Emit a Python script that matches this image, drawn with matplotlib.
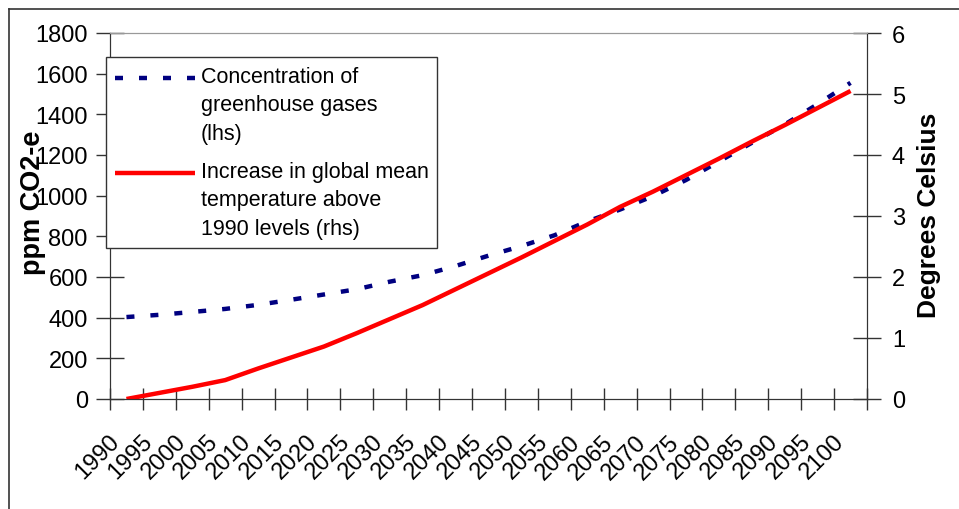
import matplotlib
matplotlib.use("Agg")
import matplotlib.pyplot as plt
from matplotlib.lines import Line2D
from matplotlib.legend_handler import HandlerLine2D
import matplotlib.transforms as mtransforms
import numpy as np

plt.rcParams['font.family'] = ['Liberation Sans', 'DejaVu Sans']

years = [str(y) for y in range(1990, 2101, 5)]
ghg_ppm = [403, 414, 428, 443, 463, 488, 514, 540, 577, 609, 654, 705,
           752, 805, 873, 932, 998, 1077, 1168, 1260, 1350, 1450, 1555]
temp_c = [0.0, 0.1, 0.2, 0.31, 0.50, 0.68, 0.86, 1.08, 1.31, 1.54, 1.80, 2.06,
          2.32, 2.59, 2.86, 3.15, 3.40, 3.67, 3.94, 4.22, 4.49, 4.77, 5.05]
label_ghg = "Concentration of\ngreenhouse gases\n(lhs)"
label_temp = "Increase in global mean\ntemperature above\n1990 levels (rhs)"


class TopHandler(HandlerLine2D):
    def __init__(self, dy, **kw):
        super().__init__(**kw)
        self.dy = dy

    def create_artists(self, legend, orig_handle, xdescent, ydescent, width,
                       height, fontsize, trans):
        arts = super().create_artists(legend, orig_handle, xdescent, ydescent,
                                      width, height, fontsize, trans)
        for a in arts:
            a.set_ydata(np.asarray(a.get_ydata(), dtype=float) + self.dy)
        return arts


W, H = 959, 510
fig = plt.figure(figsize=(W / 100, H / 100), dpi=100)
L, R, T, B = 110, 867, 34, 400
ax = fig.add_axes([L / W, 1 - B / H, (R - L) / W, (B - T) / H])
ax2 = ax.twinx()

x = np.arange(len(years))
fs = 17
lfs = 15.5

l1, = ax.plot(x, ghg_ppm, color='#000080', lw=3.2, linestyle=(0, (1.8, 3.6)),
              solid_capstyle='butt', dash_capstyle='butt', label=label_ghg)
l2, = ax2.plot(x, temp_c, color='#FF0000', lw=3.2, solid_capstyle='butt',
               label=label_temp)

ax.set_xlim(-0.5, len(years) - 0.5)
ax.set_ylim(0, 1800)
ax2.set_ylim(0, 6)
ax.set_yticks(range(0, 1801, 200))
ax2.set_yticks(range(0, 7))

ax.set_xticks(np.arange(-0.5, len(years), 1.0))
ax.set_xticklabels([])
ax.set_xticks(x, years, minor=True)
ax.tick_params(axis='x', which='major', direction='inout', length=16, width=1, color='#333333')
ax.tick_params(axis='x', which='minor', length=0, pad=31, labelsize=fs)

ax.tick_params(axis='y', direction='inout', length=20, width=1, color='#333333',
               labelsize=fs, pad=6)
ax2.tick_params(axis='y', direction='inout', length=20, width=1, color='#333333',
                labelsize=fs, pad=8)

for a in (ax, ax2):
    a.spines['top'].set_color('#999999')
    a.spines['left'].set_color('#333333')
    a.spines['right'].set_color('#333333')
    a.spines['bottom'].set_color('#333333')

ax.set_ylabel("ppm CO2-e", fontsize=19.5, fontweight='bold')
ax.yaxis.label.set_va('center')
ax.yaxis.set_label_coords((33 - L) / (R - L), (B - 203) / (B - T))
ax2.set_ylabel("Degrees Celsius", fontsize=19, fontweight='bold')
ax2.yaxis.label.set_va('center')
ax2.yaxis.set_label_coords((929 - L) / (R - L), (B - 215) / (B - T))

leg = ax2.legend(handles=[l1, l2], loc='upper left',
                 bbox_to_anchor=(106 / W, 1 - 58 / H), bbox_transform=fig.transFigure,
                 fontsize=lfs, frameon=True, fancybox=False, framealpha=1,
                 edgecolor='#333333', borderaxespad=0, borderpad=0.4,
                 handlelength=3.75, handletextpad=0.25, labelspacing=0.8,
                 handler_map={Line2D: TopHandler(19.8)})
leg.get_frame().set_linewidth(1.0)
for t in leg.get_texts():
    t.set_linespacing(1.47)

fig.add_artist(Line2D([9 / W, 9 / W], [1 - 10 / H, 0], color='#333333', lw=1.2))
fig.add_artist(Line2D([9 / W, 1], [1 - 10 / H, 1 - 10 / H], color='#333333', lw=1.2))

fig.canvas.draw()
offset = mtransforms.ScaledTranslation(-0.10, 0.04, fig.dpi_scale_trans)
for t in ax.get_xticklabels(minor=True):
    t.set_rotation(45)
    t.set_ha('right')
    t.set_va('center')
    t.set_rotation_mode('anchor')
    t.set_transform(t.get_transform() + offset)

fig.savefig("out.png", dpi=100)
